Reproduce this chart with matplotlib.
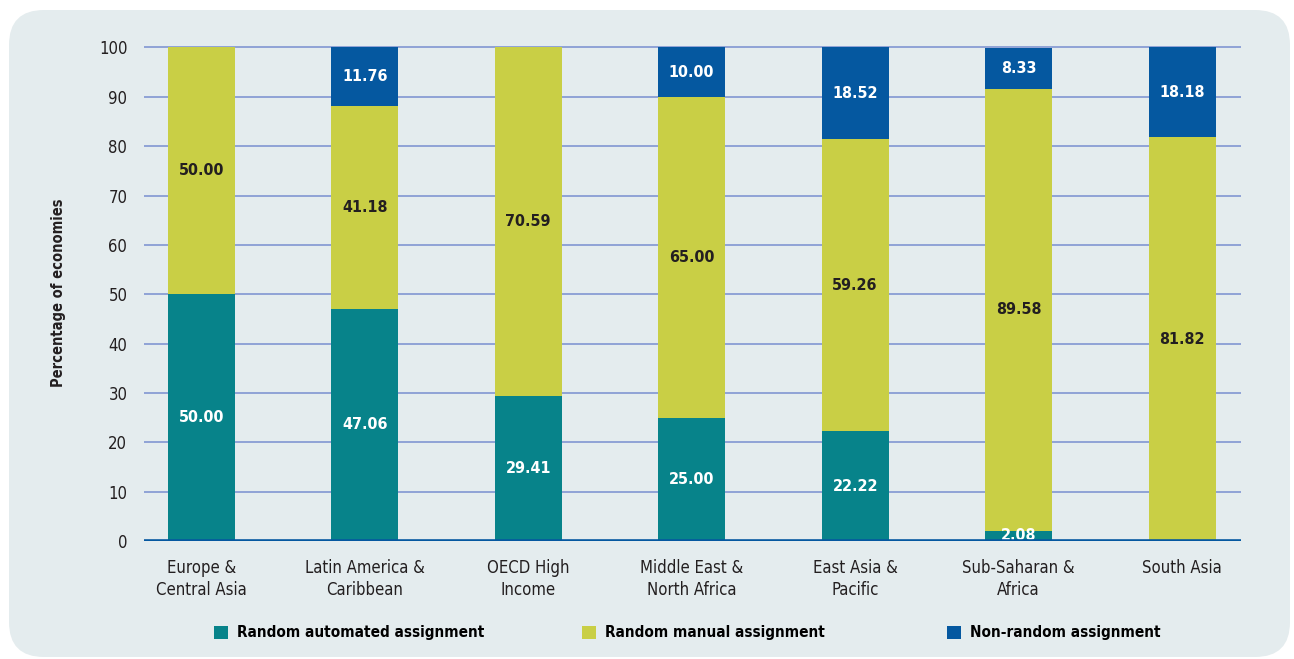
import matplotlib.pyplot as plt
import numpy as np
from matplotlib.patches import FancyBboxPatch, Patch

regions = ['Europe &\nCentral Asia', 'Latin America &\nCaribbean', 'OECD High\nIncome',
           'Middle East &\nNorth Africa', 'East Asia &\nPacific', 'Sub-Saharan &\nAfrica', 'South Asia']
automated = [50.00, 47.06, 29.41, 25.00, 22.22, 2.08, 0.0]
manual = [50.00, 41.18, 70.59, 65.00, 59.26, 89.58, 81.82]
nonrandom = [0.0, 11.76, 0.0, 10.00, 18.52, 8.33, 18.18]
series_names = ['Random automated assignment', 'Random manual assignment', 'Non-random assignment']

colors = ['#07838a', '#c9cf45', '#0558a0']
label_colors = ['white', '#231f20', 'white']
panel_bg = '#e4ecee'
text_col = '#231f20'

plt.rcParams['font.family'] = ['DejaVu Sans']
plt.rcParams['font.stretch'] = 'condensed'

fig = plt.figure(figsize=(12.94, 6.59), dpi=100)
fig.patch.set_facecolor('white')

# rounded background panel
panel = FancyBboxPatch((9 / 1294, 2 / 659), 1281 / 1294, 647 / 659,
                       boxstyle='round,pad=0,rounding_size=0.027',
                       transform=fig.transFigure, facecolor=panel_bg,
                       edgecolor='none', zorder=-5, mutation_aspect=1294 / 659)
fig.patches.append(panel)

ax = fig.add_axes([144 / 1294, 1 - 541 / 659, (1241 - 144) / 1294, (541 - 45) / 659])
ax.set_facecolor('none')

x = np.arange(len(regions))
width = 0.41
bottom = np.zeros(len(regions))
for vals, col, lcol in zip([automated, manual, nonrandom], colors, label_colors):
    vals = np.array(vals)
    ax.bar(x, vals, width, bottom=bottom, color=col, zorder=3)
    for xi, b, v in zip(x, bottom, vals):
        if v > 0:
            ax.text(xi, b + v / 2, '%.2f' % v, ha='center', va='center',
                    color=lcol, fontsize=11.5, fontweight='bold', zorder=4)
    bottom += vals

ax.set_xlim(-0.35, 6.36)
ax.set_ylim(0, 100.5)
ax.set_yticks(np.arange(0, 101, 10))
ax.yaxis.grid(True, color='#8fa3d6', linewidth=1.4, zorder=1)
ax.set_axisbelow(True)
for s in ax.spines.values():
    s.set_visible(False)
ax.axhline(0, color='#0558a0', linewidth=2.6, zorder=5)

ax.set_xticks(x)
ax.set_xticklabels(regions, fontsize=12, color=text_col, linespacing=1.3)
ax.tick_params(axis='both', length=0, colors=text_col, labelsize=12)
ax.tick_params(axis='y', pad=12)
ax.tick_params(axis='x', pad=13)
ax.set_ylabel('Percentage of economies', fontsize=10.5, fontweight='bold',
              color=text_col, labelpad=24)

# legend entries placed one by one along the bottom of the panel
legend_x = [214 / 1294, 582 / 1294, 947 / 1294]
for name, col, lx in zip(series_names, colors, legend_x):
    fig.legend([Patch(facecolor=col, edgecolor='none')], [name], loc='center left',
               bbox_to_anchor=(lx, 1 - 633 / 659), frameon=False,
               handlelength=0.9, handleheight=0.9, handletextpad=0.6,
               borderpad=0, borderaxespad=0,
               prop={'weight': 'bold', 'size': 11})

fig.savefig('out.png', dpi=100, facecolor='white')
